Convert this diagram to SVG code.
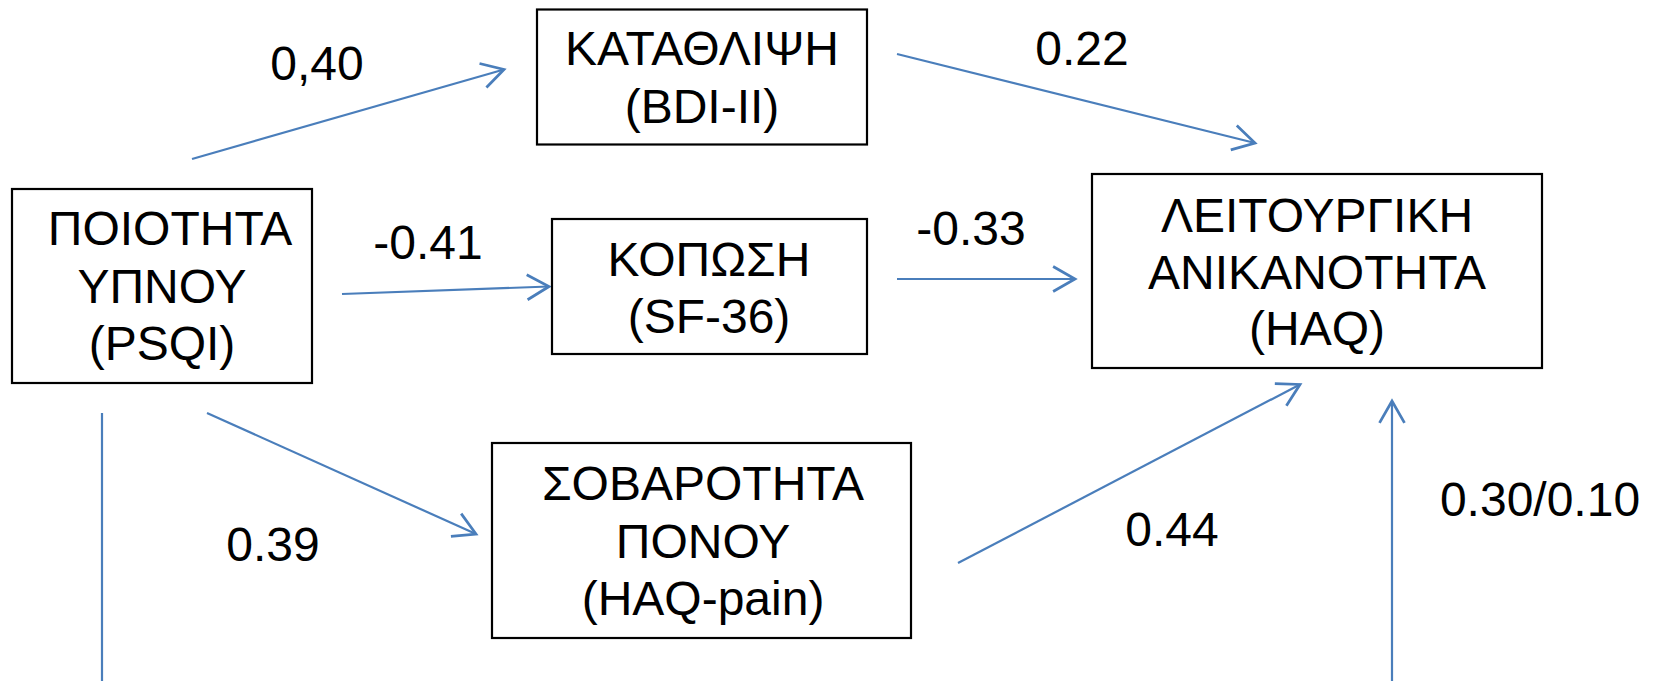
<svg xmlns="http://www.w3.org/2000/svg" width="1656" height="681" viewBox="0 0 1656 681">
<style>
.box{fill:#fff;stroke:#000;stroke-width:2.2}
.t{font-family:"Liberation Sans",Arial,sans-serif;font-size:48px;fill:#000;text-anchor:middle}
.c{stroke:#4A7EBB;stroke-width:2.2;fill:none}
</style>
<defs>
<marker id="arr" markerUnits="userSpaceOnUse" markerWidth="30" markerHeight="30" viewBox="-20 -12 24 24" refX="0" refY="0" orient="auto">
<path d="M-17.5,-10 L0,0 L-17.5,10" fill="none" stroke="#4A7EBB" stroke-width="2.2"/>
</marker>
</defs>
<rect width="1656" height="681" fill="#fff"/>
<g id="connectors">
<line class="c" x1="192" y1="159" x2="504" y2="69.5" marker-end="url(#arr)"/>
<line class="c" x1="342" y1="294" x2="549" y2="286.5" marker-end="url(#arr)"/>
<line class="c" x1="897" y1="54" x2="1255" y2="143" marker-end="url(#arr)"/>
<line class="c" x1="897" y1="279" x2="1075" y2="279" marker-end="url(#arr)"/>
<line class="c" x1="207" y1="413" x2="476" y2="534" marker-end="url(#arr)"/>
<line class="c" x1="958" y1="563" x2="1300" y2="384.5" marker-end="url(#arr)"/>
<line class="c" x1="102" y1="413" x2="102" y2="681"/>
<line class="c" x1="1392" y1="681" x2="1392" y2="401" marker-end="url(#arr)"/>
<text class="t" x="317" y="80">0,40</text>
<text class="t" x="428" y="259">-0.41</text>
<text class="t" x="1082" y="65">0.22</text>
<text class="t" x="971" y="245">-0.33</text>
<text class="t" x="273" y="561">0.39</text>
<text class="t" x="1172" y="546">0.44</text>
<text class="t" x="1540" y="516">0.30/0.10</text>
</g>
<g id="psqi">
<rect class="box" x="12" y="189" width="300" height="194"/>
<text class="t" x="170" y="245">ΠΟΙΟΤΗΤΑ</text>
<text class="t" x="162" y="303">ΥΠΝΟΥ</text>
<text class="t" x="162" y="360">(PSQI)</text>
</g>
<g id="bdi">
<rect class="box" x="537" y="9.5" width="330" height="135"/>
<text class="t" x="702" y="65">ΚΑΤΑΘΛΙΨΗ</text>
<text class="t" x="702" y="123">(BDI-II)</text>
</g>
<g id="sf36">
<rect class="box" x="552" y="219" width="315" height="135"/>
<text class="t" x="709" y="276">ΚΟΠΩΣΗ</text>
<text class="t" x="709" y="333">(SF-36)</text>
</g>
<g id="haq">
<rect class="box" x="1092" y="174" width="450" height="194"/>
<text class="t" x="1317" y="232">ΛΕΙΤΟΥΡΓΙΚΗ</text>
<text class="t" x="1317" y="289">ΑΝΙΚΑΝΟΤΗΤΑ</text>
<text class="t" x="1317" y="345">(HAQ)</text>
</g>
<g id="pain">
<rect class="box" x="492" y="443" width="419" height="195"/>
<text class="t" x="703" y="500">ΣΟΒΑΡΟΤΗΤΑ</text>
<text class="t" x="703" y="558">ΠΟΝΟΥ</text>
<text class="t" x="703" y="615">(HAQ-pain)</text>
</g>
</svg>
